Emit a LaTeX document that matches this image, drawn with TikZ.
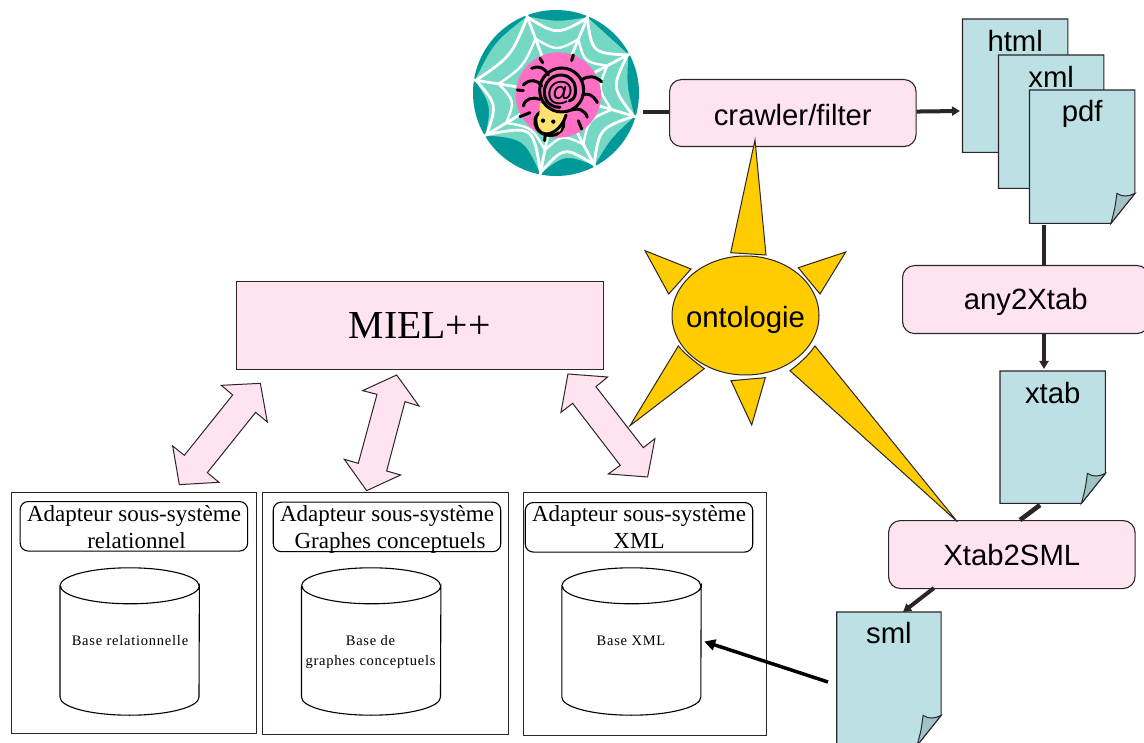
\documentclass[tikz,border=0pt]{standalone}
\usepackage{fontspec}
\setmainfont{Liberation Serif}
\newfontfamily\arialf{Liberation Sans}
\newfontfamily\spacedf[LetterSpace=5.2]{Liberation Serif}
\usetikzlibrary{calc,arrows.meta,shapes.geometric}
\definecolor{pinkbox}{HTML}{FFE3F1}
\definecolor{sunyel}{HTML}{FFCC00}
\definecolor{docblue}{HTML}{BCE0E4}
\definecolor{foldblue}{HTML}{9FC3C7}
\definecolor{webteal}{HTML}{009999}
\definecolor{weblight}{HTML}{75D8C4}
\definecolor{spiderpink}{HTML}{FF70C4}
\definecolor{spideryel}{HTML}{FFE36E}
\definecolor{linec}{HTML}{2B2527}
\tikzset{
  sanslabel/.style={font=\arialf\fontsize{29.3}{32}\selectfont,inner sep=0pt,text=black},
  procbox/.style={draw=linec,fill=pinkbox,line width=1.1pt,rounded corners=12pt,minimum width=246.5pt,minimum height=67pt,anchor=north west,inner sep=0pt},
  docframe/.style={draw=none,inner sep=0pt,anchor=north west},
  docfill/.style={draw=linec,fill=docblue,line width=1.1pt,line join=miter},
  foldfill/.style={draw=linec,fill=foldblue,line width=1pt},
  sysbox/.style={draw=linec,fill=white,line width=1.1pt,anchor=north west,inner sep=0pt},
  adaptbox/.style={draw=black,fill=white,line width=1.1pt,rounded corners=8pt,minimum width=227.5pt,minimum height=49.5pt,anchor=north west,inner sep=0pt},
  adapttext/.style={font=\fontsize{23}{26.7}\selectfont,inner sep=0pt,align=center},
  basetext/.style={font=\spacedf\fontsize{14.5}{20}\selectfont,inner sep=0pt,align=center},
  cylframe/.style={draw=none,inner sep=0pt,minimum width=139pt,minimum height=111pt},
  cyl/.style={draw=black,fill=white,line width=1.1pt},
  ray/.style={draw=linec,fill=sunyel,line width=1pt,line join=miter},
  duo/.style={draw=linec,fill=pinkbox,line width=1pt,line join=miter},
  flow/.style={draw=linec,line width=4pt},
  flowtip/.style={flow,-{Triangle[length=8pt,width=9pt]}},
  spleg/.style={draw=black,line width=3pt,line cap=round},
}
\newcommand{\docu}[7]{%
  \node[docframe,minimum width=#4pt,minimum height=#5pt] (#1) at (#2,#3) {};
  \draw[docfill] (#1.north west) -- (#1.north east) -- ([yshift=30pt]#1.south east)
     -- ([xshift=-24pt]#1.south east) -- (#1.south west) -- cycle;
  \draw[foldfill] ([xshift=-24pt]#1.south east) .. controls ([xshift=-20pt,yshift=15pt]#1.south east) .. ([xshift=-18pt,yshift=30pt]#1.south east)
     .. controls ([xshift=-12pt,yshift=26pt]#1.south east) and ([xshift=-6pt,yshift=27pt]#1.south east) .. ([yshift=30pt]#1.south east) -- cycle;
  \node[sanslabel] (#1-t) at ([yshift=-#7pt]#1.north) {#6};
}
\newcommand{\cylinder}[3]{%
  \node[cylframe] (#1) at (#2,#3) {};
  \draw[cyl] (#1.north west) -- (#1.south west) arc[start angle=180,end angle=360,x radius=69.5pt,y radius=18pt]
     -- (#1.north east) arc[start angle=0,end angle=-180,x radius=69.5pt,y radius=18pt] -- cycle;
  \draw[cyl] (#1.north west) arc[start angle=180,end angle=0,x radius=69.5pt,y radius=18pt];
}
\begin{document}
\begin{tikzpicture}[x=1pt,y=-1pt]
\useasboundingbox (0,0) rectangle (1144,743);
\fill[white] (0,0) rectangle (1144,743);

% ---------- web ----------
\node[circle,fill=webteal,draw=none,minimum size=166pt,inner sep=0pt] (web) at (556,93) {};
\begin{scope}[shift={(556,93)},x=1pt,y=1pt]
  \foreach \a/\b/\m/\c/\d in {110.7/67.4/89/71/58,67.4/28/47.7/78/54,28/-16.6/5.7/71/56,-16.6/-62/-39.3/71/56,-62/-101/-81.5/62/54,-101/-149/-125/56/40,-149/171/-169/66/60,171/110.7/140.8/80/58}{
    \fill[weblight] (0,0) -- (\a:82) .. controls (\m:\c) .. (\b:82) -- cycle;
  }
  \foreach \a/\b/\m/\c/\d in {110.7/67.4/89/71/58,67.4/28/47.7/78/54,28/-16.6/5.7/71/56,-16.6/-62/-39.3/71/56,-62/-101/-81.5/62/54,-101/-149/-125/56/40,-149/171/-169/66/60,171/110.7/140.8/80/58}{
    \draw[white,line width=2.8pt] (0,0) -- (\a:84);
    \draw[white,line width=2.8pt] (\a:81) .. controls (\m:\d) .. (\b:81);
    \draw[white,line width=2.4pt] (\a:58) .. controls (\m:42) .. (\b:58);
  }
\end{scope}
% ---------- spider ----------
\begin{scope}[shift={(460,0)},x=0.3333pt,y=-0.3333pt]
  \fill[spiderpink] (295,285) circle[radius=128];
  \draw[spleg,fill=spideryel,rotate around={-15:(268,368)}] (268,368) ellipse[x radius=44,y radius=38];
  \fill[spideryel] (240,310) -- (325,325) -- (300,395) -- (235,395) -- cycle;
  \draw[spleg] (228,350) .. controls (225,385) and (240,402) .. (258,402) .. controls (285,402) and (310,375) .. (318,345);
  \fill[black] (249,362) circle[radius=6.5] (280,365) circle[radius=6.5];
  \draw[spleg] (256,402) -- (254,422);
  \draw[spleg,fill=spiderpink] (305,270) circle[radius=66];
  \draw[spleg] (300,322) .. controls (258,322) and (248,285) .. (255,262) .. controls (265,222) and (320,210) .. (342,248) .. controls (352,275) and (345,300) .. (328,303);
  \draw[spleg] (215,205) .. controls (240,195) and (255,205) .. (265,225);
  \draw[spleg] (190,255) .. controls (210,235) and (235,240) .. (245,258);
  \draw[spleg] (190,318) .. controls (195,295) and (220,290) .. (240,298);
  \draw[spleg] (425,245) .. controls (405,228) and (385,225) .. (365,240);
  \draw[spleg] (412,308) .. controls (400,285) and (385,278) .. (368,285);
  \draw[spleg] (382,352) .. controls (375,330) and (355,322) .. (335,330);
  \draw[spleg] (240,175) -- (248,188) (340,165) -- (335,182) (172,270) -- (190,272) (180,350) -- (210,338) (355,362) -- (365,387);
  \node[inner sep=0pt,font=\arialf\bfseries\fontsize{27}{27}\selectfont] (at) at (300,278) {@};
\end{scope}

% ---------- process boxes ----------
\node[procbox] (crawler) at (669,79) {};
\node[sanslabel] (crawlert) at ([yshift=-2pt]crawler.center) {crawler/filter};
\node[procbox,minimum height=68pt] (anyx) at (902,265) {};
\node[sanslabel] (anyxt) at ([yshift=-2.5pt]anyx.center) {any2Xtab};
\node[procbox,minimum height=68pt] (xsml) at (888,520) {};
\node[sanslabel] (xsmlt) at (xsml.center) {Xtab2SML};

% ---------- documents ----------
\docu{html}{962.5}{19}{105}{133}{html}{22}
\docu{xml}{998.5}{55}{105}{133}{xml}{22}
\docu{pdf}{1029.5}{90}{105}{133}{pdf}{24}
\docu{xtab}{1000}{371}{105}{132}{xtab}{22}
\docu{sml}{836.7}{612}{104}{133}{sml}{21}

% ---------- flows ----------
\draw[flow] ([xshift=4pt,yshift=1.5pt]web.east |- crawler.west) -- ([yshift=1.5pt]crawler.west);
\draw[flowtip] ([yshift=1.5pt]crawler.east) -- (960,111);
\coordinate (pdfout) at (1044,225);
\coordinate (xtabin) at (1044,369);
\coordinate (xtabout) at (1040,505);
\coordinate (xsmlin) at (1020,520);
\coordinate (xsmlout) at (934,588);
\coordinate (smlin) at (903,612);
\draw[flow] (pdfout) -- (1044,265);
\draw[flowtip] (1044,333) -- (xtabin);
\draw[flow,line width=4.6pt] (xtabout) -- (xsmlin);
\draw[flowtip] (xsmlout) -- (smlin);

% ---------- MIEL ----------
\node[draw=linec,fill=pinkbox,line width=1.1pt,minimum width=366.5pt,minimum height=88pt,anchor=north west,inner sep=0pt,font=\fontsize{39.7}{42}\selectfont] (miel) at (236,281) {MIEL++};

% ---------- ontology ----------
\node[ellipse,draw=linec,fill=sunyel,line width=1pt,minimum width=147pt,minimum height=119pt,inner sep=0pt] (onto) at (745.5,315.5) {};
\node[sanslabel] (ontot) at (745.5,320) {ontologie};
\draw[ray] (755,140) -- (730.7,252.7) -- (766,255) -- cycle;
\draw[ray] (645,250.7) -- (691,269) -- (668.7,294) -- cycle;
\draw[ray] (845.7,252) -- (798.3,267.7) -- (820,294) -- cycle;
\draw[ray] (630,425.7) -- (678.3,346) .. controls (686,355) and (695,362) .. (704.3,368.7) -- cycle;
\draw[ray] (751.7,425) -- (731,380.7) -- (765.3,377.7) -- cycle;
\draw[ray] (957.3,521.7) -- (815,346) .. controls (808,356) and (800,363) .. (790,370.7) -- cycle;

% ---------- system boxes ----------
\node[sysbox,minimum width=245.5pt,minimum height=241.7pt] (s1) at (10.5,491.6) {};
\node[sysbox,minimum width=245.5pt,minimum height=241.7pt] (s2) at (262.2,492) {};
\node[sysbox,minimum width=243pt,minimum height=243pt] (s3) at (523,492) {};
\node[adaptbox] (a1) at (19.6,501) {};
\node[adaptbox] (a2) at (272.7,501.6) {};
\node[adaptbox] (a3) at (524.7,502) {};
\node[adapttext] (a1t) at (134,529.5) {\strut Adapteur sous-système\\\strut\hspace*{5pt}relationnel};
\node[adapttext] (a2t) at (387,529.5) {\strut Adapteur sous-système\\\strut\hspace*{6pt}Graphes conceptuels};
\node[adapttext] (a3t) at (639,529.5) {\strut Adapteur sous-système\\\strut XML};
\cylinder{c1}{129.7}{641.5}
\cylinder{c2}{371.2}{641.5}
\cylinder{c3}{631.5}{641.5}
\node[basetext] (c1t) at (130,641) {Base relationnelle};
\node[basetext] (c2t) at (370.5,652) {Base de\\graphes conceptuels};
\node[basetext] (c3t) at (631,641) {Base XML};
\coordinate (smlout) at (828,682);
\draw[draw=black,line width=3.5pt,-{Triangle[length=11pt,width=11pt]}] (smlout) -- ([xshift=3pt]c3.east);

% ---------- double arrows ----------
\begin{scope}[shift={(150,360)},x=0.3333pt,y=-0.3333pt]
  \draw[duo] (331,70) -- (352,186) -- (317,157) -- (172,338) -- (207,367) -- (88,374) -- (68,258) -- (103,286) -- (248,105) -- (214,76) -- cycle;
  \draw[duo] (740,45) -- (807,138) -- (765,125) -- (710,333) -- (752,345) -- (650,392) -- (583,298) -- (625,310) -- (681,103) -- (638,92) -- cycle;
  \draw[duo] (1254,42) -- (1373,51) -- (1338,80) -- (1480,263) -- (1515,236) -- (1493,351) -- (1375,342) -- (1411,316) -- (1268,130) -- (1233,157) -- cycle;
\end{scope}
\end{tikzpicture}
\end{document}
